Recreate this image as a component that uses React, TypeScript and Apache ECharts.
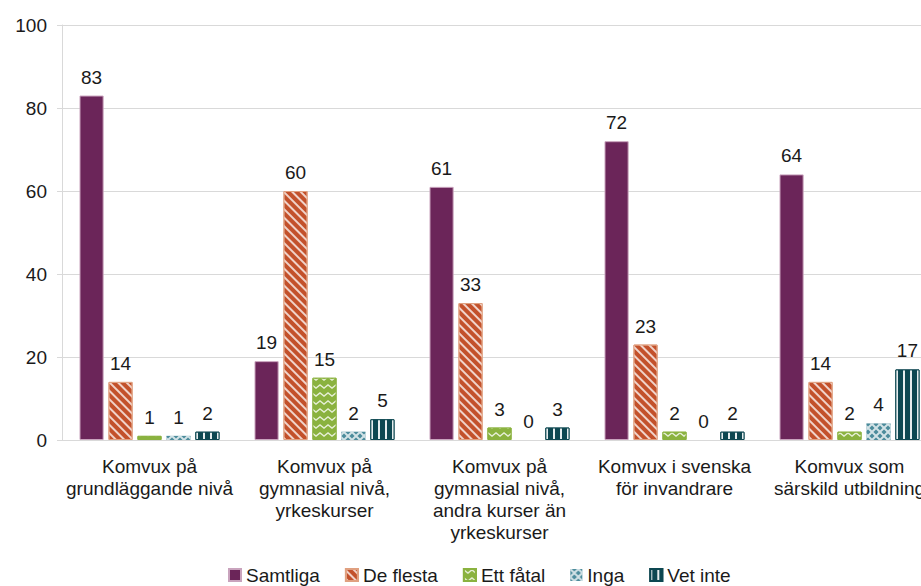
import React, { useEffect, useRef } from "react";
import * as echarts from "echarts";

const categories = [
  "Komvux på\ngrundläggande nivå",
  "Komvux på\ngymnasial nivå,\nyrkeskurser",
  "Komvux på\ngymnasial nivå,\nandra kurser än\nyrkeskurser",
  "Komvux i svenska\nför invandrare",
  "Komvux som\nsärskild utbildning",
];
const samtliga = [83, 19, 61, 72, 64];
const deFlesta = [14, 60, 33, 23, 14];
const ettFatal = [1, 15, 3, 2, 2];
const inga = [1, 2, 0, 0, 4];
const vetInte = [2, 5, 3, 2, 17];
const yTicks = { min: 0, max: 100, interval: 20 };

const FONT = "'Liberation Sans', Arial, sans-serif";

export default function App() {
  const ref = useRef<HTMLDivElement>(null);
  useEffect(() => {
    if (!ref.current) return;
    const chart = echarts.init(ref.current, null, { renderer: "svg" });
    const label = {
      show: true,
      position: "top" as const,
      distance: 9,
      fontSize: 19,
      color: "#1a1a1a",
      fontFamily: FONT,
    };
    const mk = (name: string, data: number[], color: string, decal?: any, border?: string, bw = 1) => ({
      name,
      type: "bar",
      data,
      barGap: "20%",
      barCategoryGap: "20%",
      label,
      itemStyle: {
        color,
        borderColor: border || color,
        borderWidth: bw,
        decal,
      },
    });
    chart.setOption({
      animation: false,
      textStyle: { fontFamily: FONT },
      grid: { left: 62, top: 25, width: 875, bottom: 146, containLabel: false },
      legend: {
        left: 223,
        top: 560,
        icon: "rect",
        itemWidth: 12,
        itemHeight: 12,
        itemGap: 25,
        textStyle: { fontSize: 19, lineHeight: 20, color: "#1a1a1a", fontFamily: FONT },
      },
      xAxis: {
        type: "category",
        data: categories,
        axisLine: { lineStyle: { color: "#d9d9d9", width: 1 } },
        axisTick: { show: false },
        axisLabel: {
          fontSize: 19,
          lineHeight: 22,
          color: "#1a1a1a",
          margin: 15,
          interval: 0,
          fontFamily: FONT,
        },
      },
      yAxis: {
        type: "value",
        min: yTicks.min,
        max: yTicks.max,
        interval: yTicks.interval,
        axisLine: { show: true, lineStyle: { color: "#d9d9d9" } },
        axisTick: { show: true, length: 5, lineStyle: { color: "#d9d9d9" } },
        axisLabel: { fontSize: 19, color: "#1a1a1a", margin: 15, fontFamily: FONT },
        splitLine: { lineStyle: { color: "#d9d9d9" } },
      },
      series: [
        mk("Samtliga", samtliga, "#6b2559", undefined, "#c9a3bd"),
        mk("De flesta", deFlesta, "#c3512b", {
          symbol: "rect",
          color: "rgba(255,255,255,0.75)",
          dashArrayX: [1, 0],
          dashArrayY: [2, 4],
          rotation: Math.PI / 4,
        }, "#e0a080"),
        mk("Ett fåtal", ettFatal, "#8ab23f", {
          symbol: "path://M0,0 L4,3 L8,0 L8,1.6 L4,4.6 L0,1.6 Z",
          symbolKeepAspect: false,
          color: "rgba(255,255,255,0.8)",
          dashArrayX: [8, 0],
          dashArrayY: [4.6, 2.4],
        }),
        mk("Inga", inga, "#4b8b9b", {
          symbol:
            "path://M0,0 L1.4,0 L8,6.6 L8,8 L6.6,8 L0,1.4 Z M8,0 L8,1.4 L1.4,8 L0,8 L0,6.6 L6.6,0 Z",
          symbolKeepAspect: false,
          color: "rgba(255,255,255,0.75)",
          dashArrayX: [8, 0],
          dashArrayY: [8, 0],
        }, undefined, 0),
        mk("Vet inte", vetInte, "#0d4751", {
          symbol: "rect",
          color: "rgba(255,255,255,0.9)",
          dashArrayX: [1.4, 4.6],
          dashArrayY: [5, 0],
        }),
      ],
    });
    return () => chart.dispose();
  }, []);
  return (
    <div
      style={{ position: "fixed", left: 0, top: 0, width: 921, height: 586, overflow: "hidden", background: "#fff" }}
    >
      <div ref={ref} style={{ width: 960, height: 586 }} />
    </div>
  );
}
